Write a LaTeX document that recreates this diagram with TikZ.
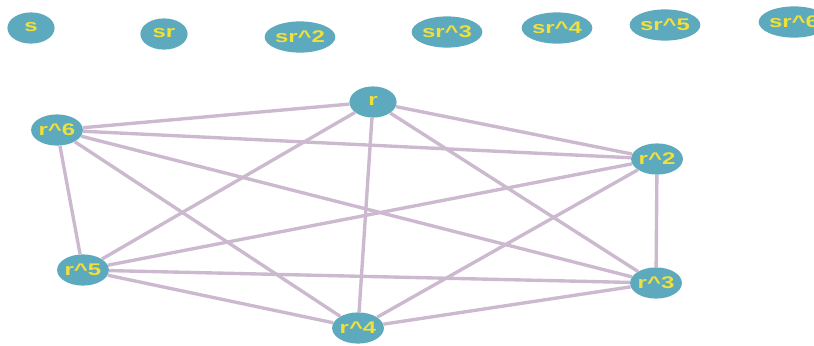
\documentclass[tikz,border=0pt]{standalone}
\usepackage{fontspec}
\setsansfont{Liberation Sans}
\usepackage{xcolor}
\usepackage{contour}
\usepackage{tikz}
\usetikzlibrary{shapes}
\definecolor{vfill}{HTML}{5DA9BE}
\definecolor{vtext}{HTML}{F0E03A}
\definecolor{eline}{HTML}{CDB9CF}
\contourlength{0.9pt}
\newcommand{\vlabel}[1]{\scalebox{1.42}[1]{\contour{vfill}{#1}}}

\begin{document}
\begin{tikzpicture}[x=0.025cm,y=-0.025cm,
  vert/.style={ellipse,fill=vfill,minimum width=1.18cm,minimum height=0.78cm,inner sep=0pt,
    text=vtext,font=\sffamily\bfseries\fontsize{12}{13}\selectfont},
  edge/.style={eline,line width=2.4pt}]
\useasboundingbox(0,0)rectangle(814,345);
% reflections, no edges
\node[vert](s)at(31,28){\vlabel{s}};
\node[vert](sr)at(164,34){\vlabel{sr}};
\node[vert](sr2)at(300,37){\vlabel{sr\textasciicircum 2}};
\node[vert](sr3)at(447,32){\vlabel{sr\textasciicircum 3}};
\node[vert](sr4)at(557,28){\vlabel{sr\textasciicircum 4}};
\node[vert](sr5)at(665,25){\vlabel{sr\textasciicircum 5}};
\node[vert](sr6)at(794,22){\vlabel{sr\textasciicircum 6}};
% rotations
\node[vert](r1)at(373,102){\vlabel{r}};
\node[vert](r2)at(657,159){\vlabel{r\textasciicircum 2}};
\node[vert](r3)at(656,283){\vlabel{r\textasciicircum 3}};
\node[vert](r4)at(358,328){\vlabel{r\textasciicircum 4}};
\node[vert](r5)at(83,270){\vlabel{r\textasciicircum 5}};
\node[vert](r6)at(57,130){\vlabel{r\textasciicircum 6}};
% every pair of rotations is joined
\foreach \a/\b in {1/2,1/3,1/4,1/5,1/6,2/3,2/4,2/5,2/6,3/4,3/5,3/6,4/5,4/6,5/6}
  \draw[edge](r\a)--(r\b);
\end{tikzpicture}
\end{document}
